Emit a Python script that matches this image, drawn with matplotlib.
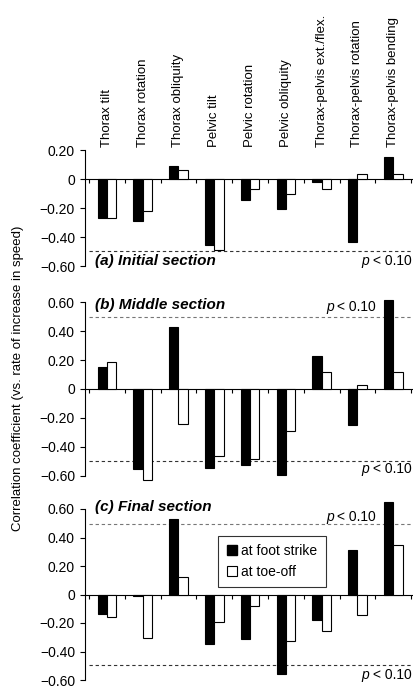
import matplotlib
matplotlib.use("Agg")
import matplotlib.pyplot as plt
from matplotlib.lines import Line2D
import numpy as np

plt.rcParams['font.family'] = ['Liberation Sans', 'DejaVu Sans']

categories = ["Thorax tilt", "Thorax rotation", "Thorax obliquity", "Pelvic tilt",
              "Pelvic rotation", "Pelvic obliquity", "Thorax-pelvis ext./flex.",
              "Thorax-pelvis rotation", "Thorax-pelvis bending"]

# (a) Initial section
a_foot = [-0.27, -0.287, 0.09, -0.455, -0.147, -0.205, -0.016, -0.432, 0.156]
a_toe = [-0.27, -0.223, 0.064, -0.49, -0.067, -0.103, -0.071, 0.039, 0.034]
# (b) Middle section
b_foot = [0.150, -0.553, 0.430, -0.546, -0.525, -0.594, 0.227, -0.250, 0.617]
b_toe = [0.187, -0.629, -0.240, -0.465, -0.483, -0.294, 0.118, 0.025, 0.120]
# (c) Final section
c_foot = [-0.136, -0.009, 0.531, -0.345, -0.310, -0.561, -0.179, 0.310, 0.646]
c_toe = [-0.161, -0.308, 0.120, -0.191, -0.080, -0.324, -0.253, -0.145, 0.347]

titles = ["(a) Initial section", "(b) Middle section", "(c) Final section"]
ylims = [(-0.6, 0.2), (-0.6, 0.6), (-0.6, 0.6)]
yticks = [[0.2, 0, -0.2, -0.4, -0.6], [0.6, 0.4, 0.2, 0, -0.2, -0.4, -0.6],
          [0.6, 0.4, 0.2, 0, -0.2, -0.4, -0.6]]
sig = 0.497
legend_labels = ["at foot strike", "at toe-off"]

W, H = 414, 689
fig = plt.figure(figsize=(W / 100, H / 100), dpi=100)

def frac_rect(top_px, bot_px):
    left = 85 / W
    width = (413 - 85) / W
    return [left, (H - bot_px) / H, width, (bot_px - top_px) / H]

rects = [frac_rect(150.3, 266.0), frac_rect(302.3, 475.5), frac_rect(509.0, 680.0)]
data = [(a_foot, a_toe), (b_foot, b_toe), (c_foot, c_toe)]

def fmt(v):
    if abs(v) < 1e-9:
        return "0"
    s = f"{abs(v):.2f}"
    return ("\u2212" + s) if v < 0 else s

x = np.arange(len(categories)) + 0.5
bw = 0.26
axes = []
for i, (rect, (foot, toe)) in enumerate(zip(rects, data)):
    ax = fig.add_axes(rect)
    axes.append(ax)
    ax.set_xlim(-0.11, 9.05)
    ax.set_ylim(*ylims[i])
    ax.bar(x - bw / 2, foot, width=bw, color='black', edgecolor='black', linewidth=0.8, clip_on=False, zorder=3)
    ax.bar(x + bw / 2, toe, width=bw, color='white', edgecolor='black', linewidth=0.8, clip_on=False, zorder=3)
    for s in ['top', 'right']:
        ax.spines[s].set_visible(False)
    ax.spines['bottom'].set_position(('data', 0))
    ax.spines['bottom'].set_linewidth(0.8)
    ax.spines['left'].set_linewidth(0.8)
    ax.set_xticks(np.arange(0, 10))
    ax.set_xticklabels([])
    ax.tick_params(axis='x', direction='out', length=3, width=0.8)
    ax.set_yticks(yticks[i])
    ax.set_yticklabels([fmt(v) for v in yticks[i]])
    ax.tick_params(axis='y', direction='out', length=3.6, width=0.8, pad=3.6, labelsize=10)
    ax.hlines(-sig, 0, 9.05, colors='#333333', linestyles=(0, (3, 2.5)), linewidth=0.8, zorder=1)
    if i > 0:
        ax.hlines(sig, 0, 9.05, colors='#777777', linestyles=(0, (3, 2.5)), linewidth=0.8, zorder=1)

# panel titles
axes[0].text(0.17, -0.568, titles[0], fontsize=11, fontweight='bold', style='italic', ha='left', va='center')
axes[1].text(0.17, 0.58, titles[1], fontsize=11, fontweight='bold', style='italic', ha='left', va='center')
axes[2].text(0.17, 0.612, titles[2], fontsize=11, fontweight='bold', style='italic', ha='left', va='center')

# p-value labels
plabels = [(0, 9.02, -0.562), (1, 8.02, 0.564), (1, 9.02, -0.556), (2, 8.02, 0.545), (2, 9.02, -0.565)]
for idx, xr, y in plabels:
    axes[idx].annotate("< 0.10", (xr, y), fontsize=10, ha='right', va='center', annotation_clip=False)
    axes[idx].annotate("p", (xr, y), xytext=(-30.5, 0), textcoords='offset points',
                       fontsize=10, style='italic', ha='right', va='center', annotation_clip=False)

# category labels
for xi, lab in zip(x, categories):
    axes[0].annotate(lab, (xi, 0.2), xytext=(0, 2.5), textcoords='offset points',
                     rotation=90, ha='center', va='bottom', fontsize=9.5, annotation_clip=False)

# legend
handles = [Line2D([], [], marker='s', linestyle='none', markersize=7, markerfacecolor='black', markeredgecolor='black'),
           Line2D([], [], marker='s', linestyle='none', markersize=7, markerfacecolor='white', markeredgecolor='black', markeredgewidth=0.8)]
leg = axes[2].legend(handles, legend_labels, loc='upper left', bbox_to_anchor=(0.405, 0.845), borderaxespad=0,
                     fontsize=10, frameon=True, fancybox=False, edgecolor='black', handlelength=0.8,
                     handletextpad=0.3, labelspacing=0.5, borderpad=0.6)
leg.get_frame().set_linewidth(0.8)
leg.set_zorder(5)

fig.text(18 / W, (H - 378.7) / H, "Correlation coefficient (vs. rate of increase in speed)",
         rotation=90, ha='center', va='center', fontsize=9.5)

fig.savefig("out.png", dpi=100)
